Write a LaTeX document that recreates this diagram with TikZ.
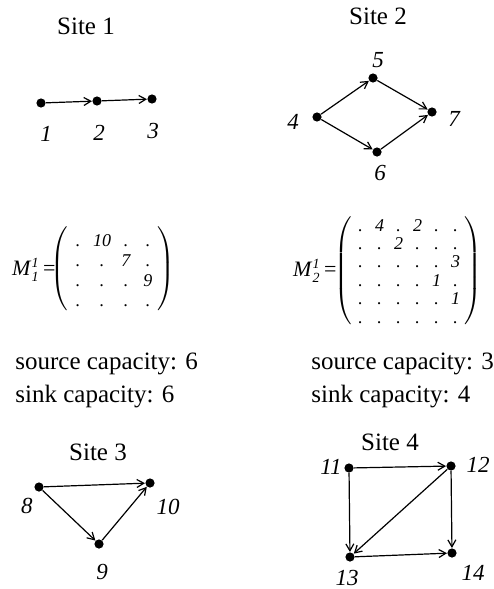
\documentclass[tikz,border=0pt]{standalone}
\usepackage{fontspec}
\setmainfont{Liberation Serif}
\usetikzlibrary{arrows.meta, positioning, matrix}

\begin{document}
\begin{tikzpicture}[
    x=0.5pt, y=-0.5pt,
    >= {Straight Barb[length=3.5pt, width=4pt]},
    dot/.style={circle, fill=black, inner sep=0pt, minimum size=4.6pt},
    lbl/.style={font=\itshape\fontsize{11.5}{13}\selectfont, inner sep=0pt},
    sitetitle/.style={font=\fontsize{12.5}{15}\selectfont, inner sep=0pt},
    captext/.style={font=\fontsize{12.5}{15}\selectfont, inner sep=0pt, anchor=base west},
    edge/.style={->, line width=0.6pt},
    capmatrix/.style={matrix of nodes, inner sep=0pt,
        left delimiter=(, right delimiter=),
        every delimiter/.style={inner sep=0pt}},
    entry/.style={font=\itshape\fontsize{9}{10}\selectfont, inner sep=0pt,
        text height=6pt, text depth=0pt, anchor=center},
    mlabel/.style={inner sep=0pt, font=\fontsize{11}{13}\selectfont},
    ]

    \useasboundingbox (0,0) rectangle (493,589);

    % ==========================================
    % Site titles
    % ==========================================
    \node[sitetitle] (title1) at (86,26) {Site 1};
    \node[sitetitle] (title2) at (378,16) {Site 2};
    \node[sitetitle] (title3) at (98,452) {Site 3};
    \node[sitetitle] (title4) at (390,442) {Site 4};

    % ==========================================
    % Vertices and their numbers
    % ==========================================
    \foreach \n/\x/\y in {
        1/41/103, 2/97/101, 3/152/99,
        4/317/117, 5/373/78, 6/377/152, 7/432/112,
        8/39/487, 9/99/544, 10/150/483,
        11/349/468, 12/451/466, 13/350/557, 14/452/553}
    {
        \node[dot] (n\n) at (\x,\y) {};
    }

    \foreach \n/\x/\y in {
        1/46/134, 2/99/133, 3/153/131,
        4/293/122, 5/378/60, 6/380/173, 7/454/119,
        8/27/506, 9/102/572, 10/168/507,
        11/331/467, 12/478/465, 13/347/578, 14/473/573}
    {
        \node[lbl] (l\n) at (\x,\y) {\n};
    }

    % ==========================================
    % Directed edges
    % ==========================================
    \foreach \a/\b in {1/2, 2/3, 4/5, 4/6, 5/7, 6/7, 8/9, 8/10, 9/10,
                       11/12, 11/13, 12/13, 12/14, 13/14}
    {
        \draw[edge] (n\a) -- (n\b);
    }

    % ==========================================
    % Capacity matrices
    % ==========================================
    \matrix (m1) at (113,270) [capmatrix, column sep=4pt, row sep=0pt,
        nodes={entry, minimum width=7pt, minimum height=10pt}]
    {
        . & 10 & . & . \\
        . & .  & 7 & . \\
        . & .  & . & 9 \\
        . & .  & . & . \\
    };
    \node[mlabel, anchor=east] (lab1) at (56,270)
        {\textit{M}$^{\textit{\scriptsize 1}}_{\textit{\scriptsize 1}}$\,=};

    \matrix (m2) at (408,271) [capmatrix, column sep=3.5pt, row sep=0pt,
        nodes={entry, minimum width=6pt, minimum height=9.2pt}]
    {
        . & 4 & . & 2 & . & . \\
        . & . & 2 & . & . & . \\
        . & . & . & . & . & 3 \\
        . & . & . & . & 1 & . \\
        . & . & . & . & . & 1 \\
        . & . & . & . & . & . \\
    };
    \node[mlabel, anchor=east] (lab2) at (337,271)
        {\textit{M}$^{\textit{\scriptsize 1}}_{\textit{\scriptsize 2}}$\,=};

    % ==========================================
    % Source and sink capacities
    % ==========================================
    \node[captext] (src1) at (15,369) {source capacity: 6};
    \node[captext] (snk1) at (15,402) {sink capacity: 6};
    \node[captext] (src2) at (311,369) {source capacity: 3};
    \node[captext] (snk2) at (311,402) {sink capacity: 4};

\end{tikzpicture}
\end{document}
